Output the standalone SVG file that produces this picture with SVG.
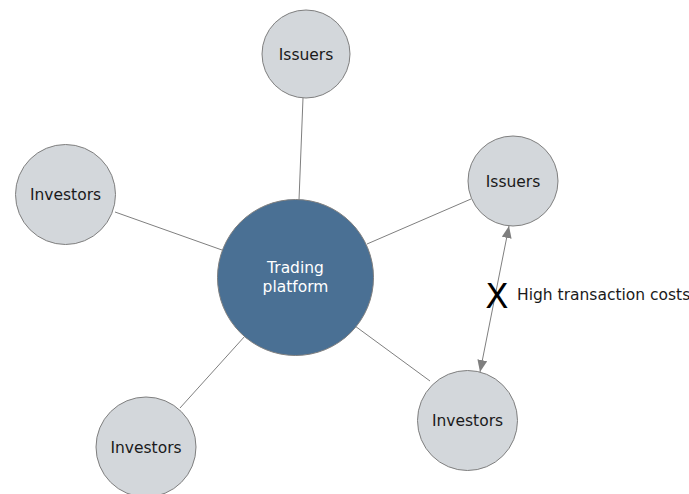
<svg xmlns="http://www.w3.org/2000/svg" width="689" height="494" viewBox="0 0 689 494">
<style>
.n{fill:#d3d7db;stroke:#7f7f7f;stroke-width:1}
.c{fill:#4a7094;stroke:#7f7f7f;stroke-width:1}
.t{font-family:"DejaVu Sans",Verdana,sans-serif;font-size:15.5px;fill:#1a1a1a;text-anchor:middle}
.w{fill:#ffffff}
.l{stroke:#7f7f7f;stroke-width:1;fill:none}
</style>
<defs>
<marker id="ah" markerWidth="12" markerHeight="10" refX="12" refY="5" orient="auto-start-reverse" markerUnits="userSpaceOnUse">
<path d="M0,0 L12,5 L0,10 Z" fill="#7f7f7f"/>
</marker>
</defs>
<rect width="689" height="494" fill="#ffffff"/>
<g id="connectors">
<line class="l" x1="303" y1="98" x2="299" y2="200"/>
<line class="l" x1="115" y1="212" x2="222" y2="250"/>
<line class="l" x1="471" y1="199" x2="367" y2="244"/>
<line class="l" x1="180" y1="408" x2="245" y2="336"/>
<line class="l" x1="355" y1="326" x2="430" y2="381"/>
<line class="l" x1="509" y1="226" x2="480" y2="372" marker-start="url(#ah)" marker-end="url(#ah)"/>
</g>
<g id="center">
<circle class="c" cx="295.5" cy="277.5" r="78"/>
<text class="t w" x="295.5" y="273">Trading</text>
<text class="t w" x="295.5" y="292">platform</text>
</g>
<g id="issuers-top">
<circle class="n" cx="306" cy="54" r="44"/>
<text class="t" x="306" y="59.5">Issuers</text>
</g>
<g id="issuers-right">
<circle class="n" cx="513" cy="181" r="45"/>
<text class="t" x="513" y="186.5">Issuers</text>
</g>
<g id="investors-left">
<circle class="n" cx="65.5" cy="194.5" r="50"/>
<text class="t" x="65.5" y="200">Investors</text>
</g>
<g id="investors-bottom-left">
<circle class="n" cx="146" cy="447" r="50"/>
<text class="t" x="146" y="452.5">Investors</text>
</g>
<g id="investors-bottom-right">
<circle class="n" cx="467.5" cy="420.5" r="50"/>
<text class="t" x="467.5" y="426">Investors</text>
</g>
<g id="label">
<text x="497" y="308" font-family="'DejaVu Sans',Verdana,sans-serif" font-size="34" fill="#000000" text-anchor="middle">X</text>
<text x="517" y="299.5" font-family="'DejaVu Sans',Verdana,sans-serif" font-size="15.5" fill="#1a1a1a">High transaction costs</text>
</g>
</svg>
